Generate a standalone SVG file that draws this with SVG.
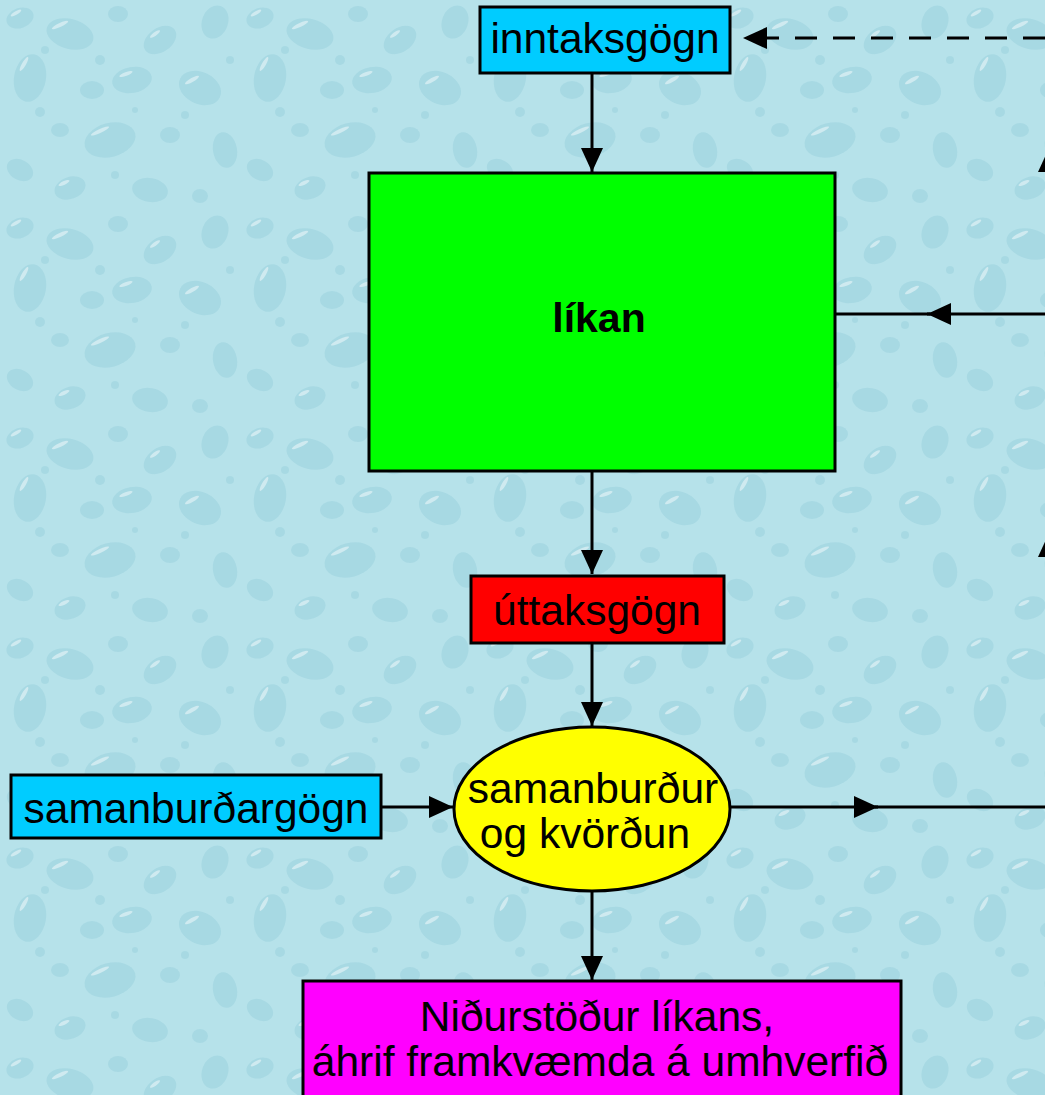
<svg xmlns="http://www.w3.org/2000/svg" width="1045" height="1095" viewBox="0 0 1045 1095">
<style>
.box{stroke:#000;stroke-width:3}
.t{font-family:"Liberation Sans",Arial,sans-serif;font-size:42.5px;fill:#000;text-anchor:middle}
.b{font-weight:bold;font-size:41px}
.c{stroke:#000;stroke-width:3;fill:none}
.d{stroke-dasharray:22 16}
.drop{fill:#86c6d6;opacity:0.3}
.hl{fill:#ffffff;opacity:0.45}
</style>
<defs>
<marker id="ah" markerUnits="userSpaceOnUse" markerWidth="24" markerHeight="22" refX="24" refY="11" orient="auto">
<path d="M0,0 L24,11 L0,22 Z" fill="#000"/>
</marker>
<pattern id="water" patternUnits="userSpaceOnUse" width="240" height="210">
<rect width="240" height="210" fill="#b6e2ea"/>
<ellipse class="drop" cx="20" cy="18" rx="14" ry="10" transform="rotate(-20 20 18)"/>
<ellipse class="hl" cx="16" cy="13" rx="6" ry="1.8" transform="rotate(-30 16 13)"/>
<ellipse class="drop" cx="70" cy="34" rx="24" ry="15" transform="rotate(15 70 34)"/>
<ellipse class="hl" cx="60" cy="25" rx="9" ry="2" transform="rotate(-25 60 25)"/>
<ellipse class="drop" cx="118" cy="14" rx="10" ry="8"/>
<ellipse class="drop" cx="160" cy="40" rx="18" ry="12" transform="rotate(-35 160 40)"/>
<ellipse class="hl" cx="155" cy="34" rx="6" ry="1.8" transform="rotate(-35 155 34)"/>
<ellipse class="drop" cx="215" cy="22" rx="13" ry="17" transform="rotate(20 215 22)"/>
<ellipse class="drop" cx="30" cy="78" rx="16" ry="24" transform="rotate(10 30 78)"/>
<ellipse class="hl" cx="24" cy="64" rx="8" ry="2" transform="rotate(-60 24 64)"/>
<ellipse class="drop" cx="92" cy="90" rx="12" ry="9"/>
<ellipse class="drop" cx="132" cy="80" rx="20" ry="13" transform="rotate(-10 132 80)"/>
<ellipse class="hl" cx="126" cy="74" rx="7" ry="1.8" transform="rotate(-20 126 74)"/>
<ellipse class="drop" cx="200" cy="88" rx="22" ry="16" transform="rotate(25 200 88)"/>
<ellipse class="hl" cx="192" cy="80" rx="8" ry="2" transform="rotate(-30 192 80)"/>
<ellipse class="drop" cx="60" cy="130" rx="9" ry="7"/>
<ellipse class="drop" cx="110" cy="140" rx="26" ry="17" transform="rotate(-15 110 140)"/>
<ellipse class="hl" cx="100" cy="131" rx="10" ry="2" transform="rotate(-25 100 131)"/>
<ellipse class="drop" cx="170" cy="135" rx="10" ry="8"/>
<ellipse class="drop" cx="225" cy="150" rx="12" ry="18" transform="rotate(-10 225 150)"/>
<ellipse class="drop" cx="20" cy="170" rx="14" ry="10" transform="rotate(30 20 170)"/>
<ellipse class="drop" cx="70" cy="188" rx="16" ry="11" transform="rotate(-20 70 188)"/>
<ellipse class="hl" cx="64" cy="183" rx="6" ry="1.8" transform="rotate(-25 64 183)"/>
<ellipse class="drop" cx="150" cy="190" rx="18" ry="12" transform="rotate(10 150 190)"/>
<ellipse class="drop" cx="200" cy="196" rx="8" ry="7"/>
<circle class="drop" cx="45" cy="50" r="4"/>
<circle class="drop" cx="100" cy="60" r="5"/>
<circle class="drop" cx="185" cy="115" r="4"/>
<circle class="drop" cx="40" cy="112" r="5"/>
<circle class="drop" cx="135" cy="110" r="3"/>
<circle class="drop" cx="230" cy="60" r="4"/>
<circle class="drop" cx="115" cy="175" r="4"/>
</pattern>
</defs>
<rect width="1045" height="1095" fill="url(#water)"/>

<g id="connectors">
<line class="c d" x1="1045" y1="38" x2="743" y2="38" marker-end="url(#ah)"/>
<line class="c" x1="592" y1="73" x2="592" y2="172" marker-end="url(#ah)"/>
<line class="c" x1="1045" y1="314" x2="927" y2="314" marker-end="url(#ah)"/>
<line class="c" x1="930" y1="314" x2="835" y2="314"/>
<line class="c" x1="592" y1="471" x2="592" y2="574" marker-end="url(#ah)"/>
<line class="c" x1="592" y1="643" x2="592" y2="726" marker-end="url(#ah)"/>
<line class="c" x1="381" y1="807" x2="453" y2="807" marker-end="url(#ah)"/>
<line class="c" x1="730" y1="807" x2="878" y2="807" marker-end="url(#ah)"/>
<line class="c" x1="875" y1="807" x2="1045" y2="807"/>
<line class="c" x1="592" y1="891" x2="592" y2="980" marker-end="url(#ah)"/>
<polygon points="1038,172 1049,148 1060,172" fill="#000"/>
<polygon points="1038,557 1049,533 1060,557" fill="#000"/>
</g>

<g id="inntaksgogn">
<rect class="box" x="480" y="7" width="250" height="66" fill="#00ccff"/>
<text class="t" x="605" y="53">inntaksgögn</text>
</g>
<g id="likan">
<rect class="box" x="369" y="173" width="466" height="298" fill="#00ff00"/>
<text class="t b" x="599" y="332">líkan</text>
</g>
<g id="uttaksgogn">
<rect class="box" x="471" y="576" width="253" height="67" fill="#ff0000"/>
<text class="t" x="597" y="625">úttaksgögn</text>
</g>
<g id="samanburdargogn">
<rect class="box" x="11" y="775" width="370" height="63" fill="#00ccff"/>
<text class="t" x="196" y="823">samanburðargögn</text>
</g>
<g id="samanburdur">
<ellipse class="box" cx="592" cy="809" rx="138" ry="82" fill="#ffff00"/>
<text class="t" x="593" y="803">samanburður</text>
<text class="t" x="585" y="848">og kvörðun</text>
</g>
<g id="nidurstodur">
<rect class="box" x="303" y="981" width="598" height="130" fill="#ff00ff"/>
<text class="t" x="597" y="1031">Niðurstöður líkans,</text>
<text class="t" x="600" y="1076">áhrif framkvæmda á umhverfið</text>
</g>
</svg>
